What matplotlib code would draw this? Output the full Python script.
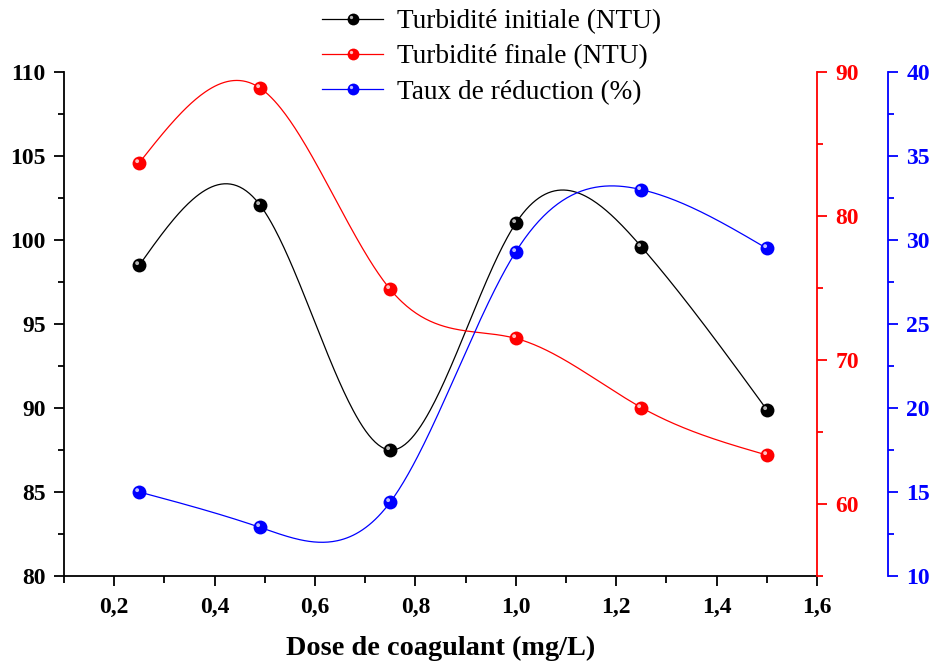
#!/usr/bin/env python3
"""Turbidity and reduction rate versus coagulant dose (three y axes)."""

from __future__ import annotations

import matplotlib

matplotlib.use("Agg")
import matplotlib.pyplot as plt
import numpy as np
from matplotlib.lines import Line2D
from matplotlib.legend_handler import HandlerTuple
from matplotlib.path import Path
from matplotlib.ticker import FuncFormatter, MultipleLocator


DOSE = [0.25, 0.49, 0.75, 1.0, 1.25, 1.5]
TURBIDITY_INITIAL = [98.5, 102.1, 87.5, 101.0, 99.6, 89.9]
TURBIDITY_FINAL = [83.7, 88.9, 74.9, 71.5, 66.7, 63.4]
REDUCTION_RATE = [15.0, 12.9, 14.4, 29.3, 33.0, 29.5]

LABELS = [
    "Turbidité initiale (NTU)",
    "Turbidité finale (NTU)",
    "Taux de réduction (%)",
]
X_LABEL = "Dose de coagulant (mg/L)"

SERIF = "Liberation Serif"
CURVE_POINTS = 400


def natural_spline(x, y, count=CURVE_POINTS):
    """Natural cubic spline through (x, y), sampled on count points."""
    x = np.asarray(x, dtype=float)
    y = np.asarray(y, dtype=float)
    n = len(x)
    h = np.diff(x)
    a = np.zeros((n, n))
    b = np.zeros(n)
    a[0, 0] = a[-1, -1] = 1.0
    for i in range(1, n - 1):
        a[i, i - 1] = h[i - 1]
        a[i, i] = 2 * (h[i - 1] + h[i])
        a[i, i + 1] = h[i]
        b[i] = 6 * ((y[i + 1] - y[i]) / h[i] - (y[i] - y[i - 1]) / h[i - 1])
    m = np.linalg.solve(a, b)

    xs = np.linspace(x[0], x[-1], count)
    idx = np.clip(np.searchsorted(x, xs) - 1, 0, n - 2)
    x0, x1 = x[idx], x[idx + 1]
    hi = x1 - x0
    t0, t1 = x1 - xs, xs - x0
    ys = (
        m[idx] * t0**3 / (6 * hi)
        + m[idx + 1] * t1**3 / (6 * hi)
        + (y[idx] / hi - m[idx] * hi / 6) * t0
        + (y[idx + 1] / hi - m[idx + 1] * hi / 6) * t1
    )
    return xs, ys


def highlight_marker() -> Path:
    # small glint up and to the left of centre; the empty corner point keeps
    # matplotlib from rescaling the path, so the offset survives
    glint = Path.circle((-0.17, 0.17), 0.14)
    corner = Path([(0.5, 0.5), (0.5, 0.5)], [Path.MOVETO, Path.LINETO])
    return Path.make_compound_path(glint, corner)


GLINT = highlight_marker()
BALL_SIZE = 10
LEGEND_BALL_SIZE = 8.5


def draw_series(ax, x, y, color, glint_color):
    xs, ys = natural_spline(x, y)
    ax.plot(xs, ys, color=color, linewidth=0.9, zorder=2)
    ax.plot(x, y, linestyle="none", marker="o", markersize=BALL_SIZE,
            markerfacecolor=color, markeredgewidth=0, zorder=3)
    ax.plot(x, y, linestyle="none", marker=GLINT, markersize=BALL_SIZE,
            markerfacecolor=glint_color, markeredgewidth=0, zorder=4)
    line = Line2D([], [], color=color, linewidth=0.9, marker="o",
                  markersize=LEGEND_BALL_SIZE, markerfacecolor=color,
                  markeredgewidth=0)
    glint = Line2D([], [], linestyle="none", marker=GLINT,
                   markersize=LEGEND_BALL_SIZE, markerfacecolor=glint_color,
                   markeredgewidth=0)
    return (line, glint)


def style_axis(ax, side, color, major, minor):
    ax.yaxis.set_major_locator(MultipleLocator(major))
    ax.yaxis.set_minor_locator(MultipleLocator(minor))
    ax.tick_params(axis="y", which="major", direction="out", length=7.2,
                   width=1.3, colors=color, labelsize=17, pad=6)
    ax.tick_params(axis="y", which="minor", direction="out", length=4,
                   width=1.3, colors=color)
    ax.spines[side].set_color(color)
    ax.spines[side].set_linewidth(1.3)
    for label in ax.get_yticklabels():
        label.set_fontfamily(SERIF)
        label.set_fontweight("bold")


def main() -> None:
    fig = plt.figure(figsize=(9.32, 6.64), dpi=100)
    ax = fig.add_axes([64 / 932, 1 - 576 / 664, (817 - 64) / 932, 504 / 664])
    ax_red = ax.twinx()
    ax_blue = ax.twinx()

    for axis in (ax, ax_red, ax_blue):
        axis.spines["top"].set_visible(False)
    ax.spines["right"].set_visible(False)
    for axis in (ax_red, ax_blue):
        axis.spines["left"].set_visible(False)
        axis.spines["bottom"].set_visible(False)
    ax_blue.spines["right"].set_position(("outward", 51))

    black = draw_series(ax, DOSE, TURBIDITY_INITIAL, "black", "#b8b8b8")
    red = draw_series(ax_red, DOSE, TURBIDITY_FINAL, "#ff0000", "#ffc0c0")
    blue = draw_series(ax_blue, DOSE, REDUCTION_RATE, "#0000ff", "#c0c0ff")

    ax.set_xlim(0.1, 1.6)
    ax.set_ylim(80, 110)
    ax_red.set_ylim(55, 90)
    ax_blue.set_ylim(10, 40)

    ax.xaxis.set_major_locator(MultipleLocator(0.2))
    ax.xaxis.set_minor_locator(MultipleLocator(0.1))
    ax.xaxis.set_major_formatter(
        FuncFormatter(lambda v, _: f"{v:.1f}".replace(".", ","))
    )
    ax.tick_params(axis="x", which="major", direction="out", length=7,
                   width=1.3, labelsize=17, pad=8)
    ax.tick_params(axis="x", which="minor", direction="out", length=5,
                   width=1.3)
    ax.spines["bottom"].set_linewidth(1.3)
    for label in ax.get_xticklabels():
        label.set_fontfamily(SERIF)
        label.set_fontweight("bold")

    style_axis(ax, "left", "black", 5, 2.5)
    style_axis(ax_red, "right", "#ff0000", 10, 5)
    style_axis(ax_blue, "right", "#0000ff", 5, 2.5)

    ax.set_xlabel(X_LABEL, fontsize=20.3, fontweight="bold", family=SERIF,
                  labelpad=13)

    fig.legend(
        [black, red, blue],
        LABELS,
        handler_map={tuple: HandlerTuple(ndivide=1, pad=0)},
        loc="upper left",
        bbox_to_anchor=(322 / 932, 1 - 9 / 664),
        frameon=False,
        prop={"family": SERIF, "size": 19.6},
        handlelength=2.25,
        handletextpad=0.5,
        labelspacing=0.38,
        borderpad=0,
        borderaxespad=0,
    )

    fig.savefig("out.png", dpi=100)
    plt.close(fig)


if __name__ == "__main__":
    main()
